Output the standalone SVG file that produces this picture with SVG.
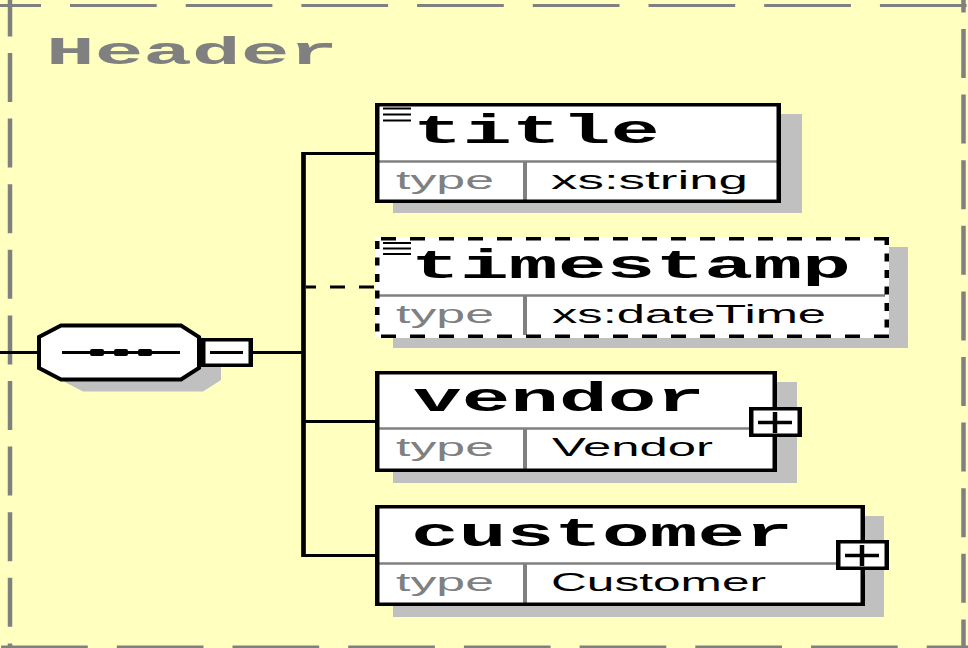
<svg xmlns="http://www.w3.org/2000/svg" width="968" height="648" viewBox="0 0 968 648">
<style>
.bg{fill:#FFFFC0}
.frame{stroke:#808080;fill:none}
.sh{fill:#C0C0C0}
.box{fill:#FFFFFF}
.hb{stroke:#000;stroke-width:3.5;fill:none}
.vb{stroke:#000;stroke-width:4.5;fill:none}
.div{stroke:#808080;stroke-width:2.5}
.vdiv{stroke:#808080;stroke-width:4}
.name{font-family:"Liberation Mono","Courier New",monospace;font-weight:bold;font-size:40px;fill:#000}
.hdr{font-family:"Liberation Mono","Courier New",monospace;font-weight:bold;font-size:38px;fill:#808080}
.lbl{font-family:"Liberation Sans",Arial,sans-serif;font-size:26px;fill:#808080}
.val{font-family:"Liberation Sans",Arial,sans-serif;font-size:26px;fill:#000}
.conn{stroke:#000;fill:none}
</style>
<rect class="bg" x="0" y="0" width="968" height="648"/>

<g id="header-frame">
  <line class="frame" x1="-45.7" y1="5.5" x2="968" y2="5.5" stroke-width="3" stroke-dasharray="86.7 29"/>
  <line class="frame" x1="1.1" y1="647" x2="968" y2="647" stroke-width="3" stroke-dasharray="86.7 29"/>
  <line class="frame" x1="10" y1="-12.6" x2="10" y2="648" stroke-width="4.5" stroke-dasharray="49 16.6"/>
  <line class="frame" x1="963.5" y1="-36.6" x2="963.5" y2="648" stroke-width="4.5" stroke-dasharray="49 16.6"/>
  <text class="hdr" x="46" y="64" textLength="292" lengthAdjust="spacingAndGlyphs">Header</text>
</g>

<g id="connectors">
  <line class="conn" x1="0" y1="352.5" x2="39" y2="352.5" stroke-width="3"/>
  <line class="conn" x1="253" y1="352.5" x2="303" y2="352.5" stroke-width="3"/>
  <line class="conn" x1="303.5" y1="152" x2="303.5" y2="557" stroke-width="4.7"/>
  <line class="conn" x1="303" y1="153.5" x2="376" y2="153.5" stroke-width="3"/>
  <line class="conn" x1="374" y1="287" x2="306" y2="287" stroke-width="3" stroke-dasharray="15 14"/>
  <line class="conn" x1="303" y1="421.5" x2="376" y2="421.5" stroke-width="3"/>
  <line class="conn" x1="303" y1="555.5" x2="376" y2="555.5" stroke-width="3"/>
</g>

<g id="sequence">
  <polygon class="sh" points="83,337.5 203,337.5 221,349 221,380 203,391.5 83,391.5 61,380 61,349"/>
  <polygon points="61,325.5 181,325.5 199,337 199,368 181,379.5 61,379.5 39,368 39,337" fill="#FFFFFF" stroke="#000" stroke-width="4"/>
  <line x1="62" y1="352.5" x2="180" y2="352.5" stroke="#000" stroke-width="3"/>
  <rect x="90" y="349" width="14" height="7" rx="2" fill="#000"/>
  <rect x="114" y="349" width="14" height="7" rx="2" fill="#000"/>
  <rect x="138" y="349" width="14" height="7" rx="2" fill="#000"/>
  <rect class="box" x="201" y="338" width="52" height="29"/>
  <line class="hb" x1="201" y1="339.75" x2="253" y2="339.75"/>
  <line class="hb" x1="201" y1="365.25" x2="253" y2="365.25"/>
  <line class="vb" x1="203.25" y1="338" x2="203.25" y2="367"/>
  <line class="vb" x1="250.75" y1="338" x2="250.75" y2="367"/>
  <line x1="210" y1="352.5" x2="243" y2="352.5" stroke="#000" stroke-width="3"/>
</g>

<g id="title">
  <rect class="sh" x="393" y="114" width="409" height="99"/>
  <rect class="box" x="375" y="103" width="406" height="100"/>
  <line class="div" x1="379" y1="161.5" x2="777" y2="161.5"/>
  <line class="vdiv" x1="525" y1="161" x2="525" y2="200"/>
  <line class="hb" x1="375" y1="104.75" x2="781" y2="104.75"/>
  <line class="hb" x1="375" y1="201.25" x2="781" y2="201.25"/>
  <line class="vb" x1="377.25" y1="103" x2="377.25" y2="203"/>
  <line class="vb" x1="778.75" y1="103" x2="778.75" y2="203"/>
  <rect x="383" y="107.5" width="28" height="2" fill="#000"/>
  <rect x="383" y="113.5" width="28" height="2" fill="#000"/>
  <rect x="383" y="119.5" width="28" height="2" fill="#000"/>
  <text class="name" x="413" y="143" textLength="247" lengthAdjust="spacingAndGlyphs">title</text>
  <text class="lbl" x="396" y="189" textLength="98" lengthAdjust="spacingAndGlyphs">type</text>
  <text class="val" x="551" y="189" textLength="197" lengthAdjust="spacingAndGlyphs">xs:string</text>
</g>

<g id="timestamp">
  <rect class="sh" x="393" y="247" width="515" height="101"/>
  <rect class="box" x="375" y="237" width="514" height="101"/>
  <line class="div" x1="379" y1="295.5" x2="885" y2="295.5"/>
  <line class="vdiv" x1="525" y1="295" x2="525" y2="335"/>
  <line class="hb" x1="889" y1="238.75" x2="375" y2="238.75" stroke-dasharray="15 14"/>
  <line class="hb" x1="889" y1="336.25" x2="375" y2="336.25" stroke-dasharray="15 14"/>
  <line class="vb" x1="377.25" y1="241" x2="377.25" y2="338" stroke-dasharray="8 8.5"/>
  <line class="vb" x1="886.75" y1="237" x2="886.75" y2="338" stroke-dasharray="8 8.5"/>
  <rect x="383" y="242" width="28" height="2" fill="#000"/>
  <rect x="383" y="247.5" width="28" height="2" fill="#000"/>
  <rect x="383" y="253" width="28" height="2" fill="#000"/>
  <text class="name" x="411" y="278" textLength="440" lengthAdjust="spacingAndGlyphs">timestamp</text>
  <text class="lbl" x="396" y="323" textLength="98" lengthAdjust="spacingAndGlyphs">type</text>
  <text class="val" x="552" y="323" textLength="274" lengthAdjust="spacingAndGlyphs">xs:dateTime</text>
</g>

<g id="vendor">
  <rect class="sh" x="393" y="382" width="404" height="101"/>
  <rect class="box" x="375" y="371" width="402" height="101"/>
  <line class="div" x1="379" y1="428.5" x2="773" y2="428.5"/>
  <line class="vdiv" x1="525" y1="428" x2="525" y2="469"/>
  <line class="hb" x1="375" y1="372.75" x2="777" y2="372.75"/>
  <line class="hb" x1="375" y1="470.25" x2="777" y2="470.25"/>
  <line class="vb" x1="377.25" y1="371" x2="377.25" y2="472"/>
  <line class="vb" x1="774.75" y1="371" x2="774.75" y2="472"/>
  <text class="name" x="413" y="411" textLength="292" lengthAdjust="spacingAndGlyphs">vendor</text>
  <text class="lbl" x="396" y="456" textLength="98" lengthAdjust="spacingAndGlyphs">type</text>
  <text class="val" x="552" y="456" textLength="161" lengthAdjust="spacingAndGlyphs">Vendor</text>
  <rect class="box" x="749" y="407" width="53" height="30"/>
  <line class="hb" x1="749" y1="408.75" x2="802" y2="408.75"/>
  <line class="hb" x1="749" y1="435.25" x2="802" y2="435.25"/>
  <line class="vb" x1="751.25" y1="407" x2="751.25" y2="437"/>
  <line class="vb" x1="799.75" y1="407" x2="799.75" y2="437"/>
  <line x1="758" y1="422.5" x2="792" y2="422.5" stroke="#000" stroke-width="3.5"/>
  <line x1="775" y1="412" x2="775" y2="433" stroke="#000" stroke-width="4.5"/>
</g>

<g id="customer">
  <rect class="sh" x="393" y="516" width="491" height="101"/>
  <rect class="box" x="375" y="505" width="490" height="101"/>
  <line class="div" x1="379" y1="563.5" x2="861" y2="563.5"/>
  <line class="vdiv" x1="525" y1="563" x2="525" y2="603"/>
  <line class="hb" x1="375" y1="506.75" x2="865" y2="506.75"/>
  <line class="hb" x1="375" y1="604.25" x2="865" y2="604.25"/>
  <line class="vb" x1="377.25" y1="505" x2="377.25" y2="606"/>
  <line class="vb" x1="862.75" y1="505" x2="862.75" y2="606"/>
  <text class="name" x="411" y="546" textLength="382" lengthAdjust="spacingAndGlyphs">customer</text>
  <text class="lbl" x="396" y="591" textLength="98" lengthAdjust="spacingAndGlyphs">type</text>
  <text class="val" x="551" y="591" textLength="215" lengthAdjust="spacingAndGlyphs">Customer</text>
  <rect class="box" x="836" y="540" width="53" height="30"/>
  <line class="hb" x1="836" y1="541.75" x2="889" y2="541.75"/>
  <line class="hb" x1="836" y1="568.25" x2="889" y2="568.25"/>
  <line class="vb" x1="838.25" y1="540" x2="838.25" y2="570"/>
  <line class="vb" x1="886.75" y1="540" x2="886.75" y2="570"/>
  <line x1="845" y1="555.5" x2="879" y2="555.5" stroke="#000" stroke-width="3.5"/>
  <line x1="862" y1="545" x2="862" y2="566" stroke="#000" stroke-width="4.5"/>
</g>
</svg>
